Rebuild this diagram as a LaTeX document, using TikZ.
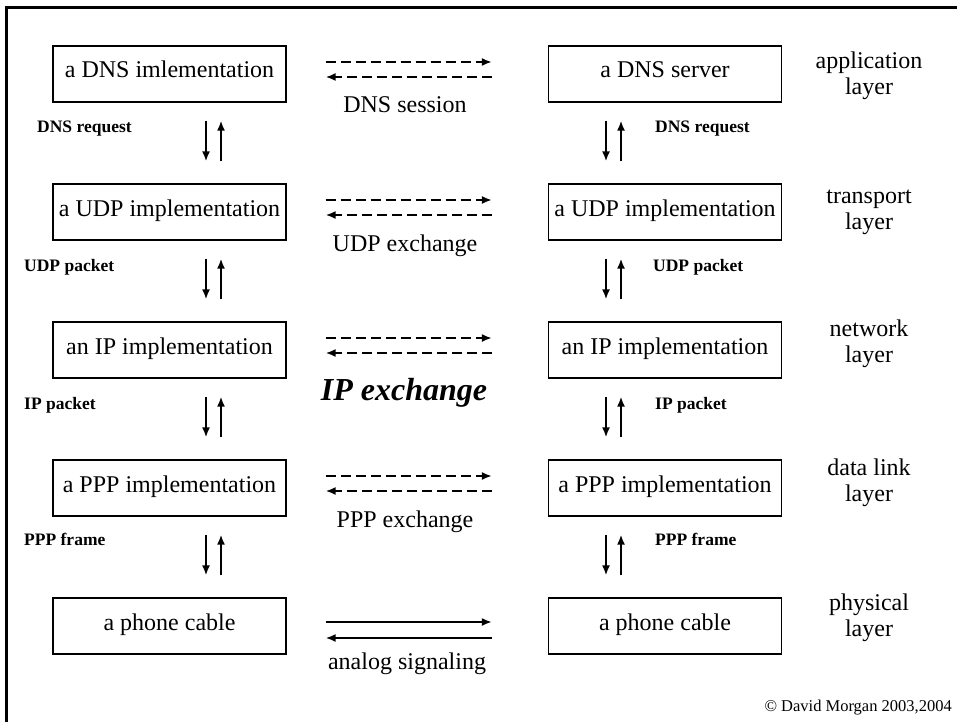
\documentclass[tikz,border=0pt]{standalone}
\usepackage{fontspec}
\setmainfont{Liberation Serif}
\usetikzlibrary{arrows.meta}

\begin{document}
\begin{tikzpicture}[x=1pt,y=-1pt,
    box/.style={rectangle,draw,line width=1.2pt,minimum width=233pt,minimum height=56pt,
      inner sep=0pt,text height=14pt,text depth=6pt,font=\fontsize{24}{26}\selectfont},
    txt/.style={font=\fontsize{24}{26}\selectfont,align=center},
    small/.style={font=\fontsize{17.5}{20}\selectfont\bfseries,anchor=base west,inner sep=0pt},
    vert/.style={line width=2.2pt,-{Latex[length=10pt,width=8pt]}},
    dasharrow/.style={line width=2.1pt,dash pattern=on 10pt off 5pt,-{Latex[length=10pt,width=8pt]}},
    plainarrow/.style={line width=2.1pt,-{Latex[length=10pt,width=8pt]}}]
    \useasboundingbox (0,0) rectangle (957,722);
    % frame, only top and left
    \draw[line width=3pt] (957,7.5) -- (6.5,7.5) -- (6.5,722);
    % left stack
    \node at (169.5,74) [box] (dnsL) {a DNS imlementation};
    \node at (169.5,212) [box] (udpL) {a UDP implementation};
    \node at (169.5,350) [box] (ipL) {an IP implementation};
    \node at (169.5,488) [box] (pppL) {a PPP implementation};
    \node at (169.5,626) [box] (telL) {a phone cable};
    % right stack
    \node at (665,74) [box] (dnsR) {a DNS server};
    \node at (665,212) [box] (udpR) {a UDP implementation};
    \node at (665,350) [box] (ipR) {an IP implementation};
    \node at (665,488) [box] (pppR) {a PPP implementation};
    \node at (665,626) [box] (telR) {a phone cable};
    % layer names
    \node at (869,76) [txt] (l1) {application\\layer};
    \node at (869,212) [txt] (l2) {transport\\layer};
    \node at (869,344) [txt] (l3) {network\\layer};
    \node at (869,483) [txt] (l4) {data link\\layer};
    \node at (869,618) [txt] (l5) {physical\\layer};
    % up and down between the layers
    \foreach \a/\b/\dx in {dnsL/udpL/36.5,udpL/ipL/36.5,ipL/pppL/36.5,pppL/telL/36.5,
                           dnsR/udpR/-59,udpR/ipR/-59,ipR/pppR/-59,pppR/telR/-59} {
        \draw[vert] ([xshift=\dx pt,yshift=-18pt]\a.south) -- ([xshift=\dx pt,yshift=22pt]\b.north);
        \draw[vert] ([xshift=\dx pt+15pt,yshift=22pt]\b.north) -- ([xshift=\dx pt+15pt,yshift=-18pt]\a.south);
    }
    \node at (37,133) [small] (p1) {DNS request};
    \node at (24,271) [small] (p2) {UDP packet};
    \node at (24,409) [small] (p3) {IP packet};
    \node at (24,545) [small] (p4) {PPP frame};
    \node at (655,133) [small] (q1) {DNS request};
    \node at (653,271) [small] (q2) {UDP packet};
    \node at (655,409) [small] (q3) {IP packet};
    \node at (655,545) [small] (q4) {PPP frame};
    % peer to peer
    \foreach \a/\b in {dnsL/dnsR,udpL/udpR,ipL/ipR,pppL/pppR} {
        \draw[dasharrow] ([xshift=39pt,yshift=12pt]\a.east) -- ([xshift=-56pt,yshift=12pt]\b.west);
        \draw[dasharrow] ([xshift=-56pt,yshift=-3pt]\b.west) -- ([xshift=39pt,yshift=-3pt]\a.east);
    }
    \draw[plainarrow] ([xshift=39pt,yshift=4pt]telL.east) -- ([xshift=-56pt,yshift=4pt]telR.west);
    \draw[plainarrow] ([xshift=-56pt,yshift=-12pt]telR.west) -- ([xshift=39pt,yshift=-12pt]telL.east);
    \node at (405,113) [txt,anchor=base] (s1) {DNS session};
    \node at (405,251) [txt,anchor=base] (s2) {UDP exchange};
    \node at (404,400) [anchor=base,font=\fontsize{32}{34}\selectfont\bfseries\itshape] (s3) {IP exchange};
    \node at (405,527) [txt,anchor=base] (s4) {PPP exchange};
    \node at (407,669) [txt,anchor=base] (s5) {analog signaling};
    \node at (952,711) [anchor=base east,inner sep=0pt,font=\fontsize{16.5}{18}\selectfont] (c) {© David Morgan 2003,2004};
\end{tikzpicture}
\end{document}
